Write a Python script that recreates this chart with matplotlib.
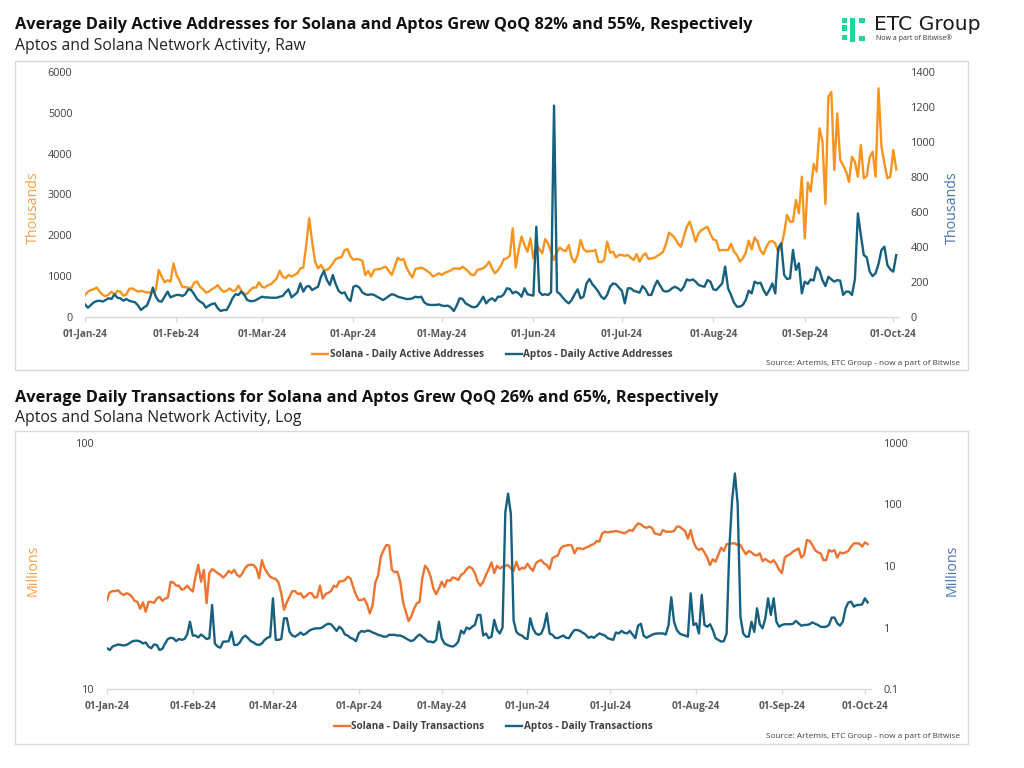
import matplotlib
matplotlib.use("Agg")
import matplotlib.pyplot as plt
import matplotlib.dates as mdates
from matplotlib.patches import Rectangle
from matplotlib.ticker import FixedLocator, FixedFormatter, NullLocator
import pandas as pd

# ---------------- data ----------------
start_date = "2024-01-01"

# Daily active addresses (thousands)
sol_daa = [540, 620, 660, 680, 720, 620, 540, 510, 550, 620,
           540, 640, 620, 520, 550, 690, 700, 660, 620, 640,
           620, 600, 600, 600, 660, 1150, 990, 850, 900, 870,
           1310, 1030, 900, 740, 730, 720, 700, 840, 870, 740,
           680, 600, 620, 680, 720, 780, 680, 620, 640, 700,
           640, 650, 770, 640, 560, 570, 660, 720, 720, 850,
           740, 720, 780, 800, 870, 950, 1130, 990, 950, 1030,
           990, 1030, 1070, 1190, 1210, 1760, 2420, 1840, 1350, 1190,
           1270, 1150, 1150, 1210, 1310, 1420, 1450, 1470, 1640, 1660,
           1480, 1400, 1420, 1410, 1380, 1030, 1125, 990, 1150, 1170,
           1175, 1210, 1230, 1125, 1030, 1230, 1450, 1395, 1420, 1210,
           1070, 970, 1175, 1190, 1210, 1175, 1125, 1070, 990, 1030,
           1070, 1030, 1085, 1110, 1140, 1190, 1190, 1175, 1230, 1175,
           1110, 1030, 1030, 1150, 1175, 1190, 1255, 1355, 1190, 1070,
           1150, 1255, 1420, 1435, 1500, 2170, 1210, 1640, 1970, 1760,
           1600, 1925, 1435, 1780, 1665, 1560, 1910, 1800, 1600, 1395,
           1600, 1700, 1640, 1615, 1760, 1450, 1340, 1520, 1885, 1665,
           1600, 1615, 1615, 1640, 1355, 1340, 1395, 1845, 1575, 1600,
           1460, 1520, 1520, 1495, 1520, 1450, 1395, 1540, 1355, 1495,
           1560, 1420, 1435, 1450, 1495, 1540, 1600, 1800, 2065, 2005,
           1925, 1800, 1720, 1965, 2210, 2335, 2090, 1845, 2050, 2130,
           2170, 2210, 2030, 1900, 1870, 1625, 1640, 1640, 1640, 1790,
           1600, 1520, 1355, 1435, 1575, 1870, 1655, 1950, 1845, 1625,
           1540, 1720, 1845, 1860, 1800, 1600, 1720, 2050, 2500, 2335,
           2335, 2865, 2540, 3435, 1925, 3290, 3070, 3745, 3560, 4620,
           4290, 2765, 5395, 5515, 3600, 4985, 3845, 3720, 3560, 3310,
           3925, 3800, 3435, 4210, 3395, 3450, 3910, 4050, 3435, 5600,
           4170, 3760, 3395, 3435, 4090, 3615]

apt_daa = [72, 53, 69, 84, 91, 93, 88, 97, 107, 103,
           130, 110, 107, 93, 103, 93, 88, 84, 65, 40,
           55, 65, 107, 168, 116, 91, 88, 116, 145, 112,
           120, 126, 126, 120, 130, 158, 154, 130, 103, 88,
           78, 53, 65, 74, 78, 50, 34, 40, 40, 69,
           107, 130, 126, 145, 126, 97, 91, 91, 97, 107,
           116, 112, 112, 110, 110, 110, 116, 120, 141, 158,
           112, 126, 141, 192, 145, 173, 177, 154, 164, 173,
           230, 263, 211, 183, 240, 187, 149, 135, 141, 107,
           91, 173, 179, 168, 141, 130, 126, 130, 126, 116,
           107, 97, 107, 120, 130, 126, 116, 112, 107, 103,
           103, 107, 116, 112, 116, 84, 72, 69, 69, 69,
           72, 65, 63, 65, 55, 34, 65, 107, 103, 78,
           69, 59, 55, 63, 88, 116, 78, 97, 107, 91,
           116, 116, 130, 164, 160, 135, 145, 135, 116, 164,
           130, 126, 122, 516, 145, 126, 130, 126, 141, 1208,
           145, 131, 110, 91, 78, 97, 130, 158, 107, 116,
           192, 217, 187, 168, 145, 116, 103, 126, 173, 192,
           187, 168, 150, 78, 164, 164, 150, 145, 139, 177,
           158, 126, 126, 173, 208, 179, 150, 145, 150, 164,
           173, 164, 150, 173, 215, 208, 215, 202, 183, 177,
           173, 211, 202, 158, 154, 173, 192, 288, 164, 126,
           82, 59, 59, 69, 97, 150, 135, 202, 192, 196,
           154, 126, 154, 192, 135, 392, 421, 240, 217, 221,
           383, 269, 307, 135, 202, 189, 215, 208, 284, 265,
           211, 177, 230, 215, 202, 211, 208, 126, 145, 145,
           126, 217, 592, 469, 354, 341, 259, 234, 250, 303,
           383, 402, 297, 272, 259, 354]

# Daily transactions (millions)
sol_tx = [23.0, 24.7, 25.0, 25.0, 25.2, 24.5, 24.1, 24.5, 24.3, 23.7,
          22.8, 22.6, 21.2, 22.5, 20.6, 22.6, 22.6, 22.4, 23.3, 23.7,
          22.8, 23.3, 23.5, 27.3, 27.1, 26.3, 26.3, 25.3, 25.6, 26.3,
          25.5, 24.9, 28.6, 32.0, 27.3, 30.5, 22.3, 29.6, 30.7, 30.2,
          29.6, 29.1, 28.4, 29.1, 30.2, 29.6, 30.5, 29.1, 28.6, 29.6,
          31.1, 31.9, 32.0, 31.9, 30.9, 28.2, 33.4, 30.9, 29.6, 28.6,
          28.2, 28.0, 27.1, 24.5, 21.0, 22.5, 23.7, 25.0, 25.0, 24.3,
          24.5, 23.5, 23.9, 24.5, 24.5, 23.5, 23.7, 26.3, 23.3, 24.3,
          24.6, 25.0, 26.3, 26.0, 27.4, 27.4, 27.7, 28.6, 28.2, 26.0,
          24.1, 23.0, 23.0, 23.3, 22.1, 20.3, 21.9, 27.1, 28.9, 34.5,
          36.7, 38.5, 38.3, 30.5, 29.8, 30.0, 27.3, 22.6, 20.7, 18.9,
          19.7, 21.2, 22.3, 22.6, 28.2, 31.7, 30.7, 28.6, 25.6, 24.3,
          25.6, 27.3, 26.0, 27.7, 27.5, 28.4, 28.2, 27.7, 29.1, 29.6,
          30.7, 31.4, 30.9, 29.6, 27.3, 26.3, 27.3, 29.1, 30.7, 32.7,
          29.6, 31.7, 30.9, 31.4, 31.7, 31.9, 30.9, 30.2, 32.9, 30.5,
          31.1, 30.9, 32.3, 31.1, 30.2, 32.4, 33.1, 33.4, 32.4, 31.9,
          30.7, 34.0, 34.5, 34.9, 37.3, 38.1, 38.3, 38.5, 38.3, 35.6,
          37.3, 37.3, 37.0, 37.5, 37.9, 38.5, 38.8, 40.0, 39.7, 42.9,
          43.6, 43.3, 43.6, 43.6, 43.9, 43.6, 43.3, 42.9, 43.6, 44.3,
          43.9, 45.7, 47.1, 46.7, 45.7, 45.2, 45.7, 45.2, 42.9, 42.6,
          42.3, 44.3, 43.6, 43.6, 43.6, 43.9, 45.7, 45.7, 44.7, 43.9,
          40.8, 44.3, 39.7, 37.5, 36.7, 37.3, 35.9, 34.2, 31.9, 33.7,
          32.9, 35.1, 37.5, 36.4, 38.8, 38.8, 39.1, 39.1, 38.5, 38.5,
          36.7, 35.3, 36.4, 35.9, 35.1, 34.9, 35.6, 33.1, 33.8, 33.1,
          32.7, 33.4, 32.1, 30.5, 29.6, 34.2, 34.9, 35.3, 36.2, 36.7,
          37.3, 34.2, 35.1, 40.3, 40.0, 38.5, 36.7, 35.9, 35.6, 33.4,
          33.4, 36.7, 36.2, 36.7, 34.2, 35.9, 35.6, 35.9, 36.4, 37.9,
          39.1, 39.1, 39.0, 37.9, 39.5, 38.8]

apt_tx = [0.46, 0.43, 0.49, 0.51, 0.53, 0.52, 0.51, 0.52, 0.55, 0.59,
          0.61, 0.61, 0.59, 0.55, 0.57, 0.49, 0.46, 0.53, 0.52, 0.43,
          0.45, 0.55, 0.65, 0.68, 0.67, 0.60, 0.65, 0.63, 0.65, 0.77,
          1.24, 0.74, 0.74, 0.69, 0.77, 0.71, 0.65, 0.67, 2.32, 0.55,
          0.49, 0.47, 0.59, 0.59, 0.60, 0.85, 0.52, 0.52, 0.57, 0.68,
          0.74, 0.67, 0.60, 0.57, 0.53, 0.52, 0.55, 0.63, 0.68, 0.71,
          2.98, 0.63, 0.63, 0.65, 1.41, 1.41, 0.85, 0.74, 0.71, 0.76,
          0.83, 0.76, 0.80, 0.88, 0.93, 0.96, 0.97, 0.97, 1.01, 1.10,
          1.15, 1.13, 1.00, 0.88, 1.03, 0.94, 0.77, 0.74, 0.68, 0.65,
          0.60, 0.80, 0.88, 0.85, 0.89, 0.88, 0.83, 0.80, 0.76, 0.74,
          0.71, 0.71, 0.76, 0.76, 0.76, 0.74, 0.74, 0.71, 0.67, 0.63,
          0.60, 0.63, 0.71, 0.77, 0.71, 0.65, 0.59, 0.59, 0.57, 0.63,
          1.24, 0.67, 0.55, 0.52, 0.50, 0.49, 0.52, 0.59, 0.89, 0.80,
          1.00, 0.94, 1.03, 1.10, 1.60, 1.60, 0.74, 0.80, 0.67, 0.71,
          1.33, 0.91, 0.80, 1.00, 75.0, 150.0, 70.0, 1.30, 0.85, 0.77,
          0.74, 0.67, 0.65, 1.41, 0.97, 0.80, 0.76, 0.80, 1.03, 1.70,
          0.80, 0.76, 0.68, 0.67, 0.71, 0.74, 0.68, 0.67, 0.80, 0.91,
          0.91, 0.88, 0.82, 0.77, 0.68, 0.71, 0.68, 0.74, 0.80, 0.77,
          0.74, 0.67, 0.65, 0.63, 0.83, 0.80, 0.88, 0.82, 0.80, 0.88,
          0.77, 0.67, 1.07, 1.15, 0.74, 0.68, 0.72, 0.76, 0.79, 0.80,
          0.80, 0.80, 0.77, 1.09, 3.10, 1.24, 0.91, 0.80, 0.76, 0.74,
          0.71, 3.60, 1.10, 1.17, 0.80, 3.40, 1.10, 1.03, 1.13, 0.91,
          0.67, 0.63, 0.59, 0.60, 0.80, 20.0, 120.0, 320.0, 100.0, 1.50,
          0.80, 0.71, 0.71, 1.24, 0.85, 2.05, 1.13, 0.97, 1.41, 2.98,
          1.60, 2.98, 1.24, 1.03, 1.10, 1.13, 1.13, 1.13, 1.15, 1.28,
          1.17, 1.07, 1.10, 1.10, 1.13, 1.21, 1.15, 1.10, 1.03, 1.02,
          1.03, 1.10, 1.45, 1.45, 1.17, 1.07, 1.24, 2.05, 2.55, 2.63,
          2.18, 2.32, 2.32, 2.38, 2.98, 2.55]

daa_left_ticks = [0, 1000, 2000, 3000, 4000, 5000, 6000]
daa_right_ticks = [0, 200, 400, 600, 800, 1000, 1200, 1400]
tx_left_ticks = [10, 100]
tx_right_ticks = [0.1, 1, 10, 100, 1000]

title1 = "Average Daily Active Addresses for Solana and Aptos Grew QoQ 82% and 55%, Respectively"
sub1 = "Aptos and Solana Network Activity, Raw"
title2 = "Average Daily Transactions for Solana and Aptos Grew QoQ 26% and 65%, Respectively"
sub2 = "Aptos and Solana Network Activity, Log"
source = "Source: Artemis, ETC Group - now a part of Bitwise"

# ---------------- style ----------------
FONT = "Open Sans"
plt.rcParams["font.family"] = [FONT, "DejaVu Sans"]
C_SOL1 = "#F7941D"
C_SOL2 = "#ED7430"
C_APT = "#17607F"
C_LAB_OR = "#F5A04A"
C_LAB_BL = "#4A72B8"
C_TXT = "#404040"
C_GRID = "#D9D9D9"

W, H = 1024, 768
fig = plt.figure(figsize=(W / 100, H / 100), dpi=100)


def rect(x0, y0, x1, y1):
    return [x0 / W, 1 - y1 / H, (x1 - x0) / W, (y1 - y0) / H]


def fx(x):
    return x / W


def fy(y):
    return 1 - y / H


# panel borders
for (x0, y0, x1, y1) in [(15, 61, 968, 370), (15, 431, 968, 744)]:
    fig.add_artist(Rectangle((fx(x0), fy(y1)), (x1 - x0) / W, (y1 - y0) / H,
                             transform=fig.transFigure, fill=False,
                             edgecolor=C_GRID, linewidth=1.0))

# titles
TS, SS = 11.8, 11.3
fig.text(fx(15), fy(25), title1, fontsize=TS, fontweight="bold", color="#111111", va="center", ha="left")
fig.text(fx(15), fy(46), sub1, fontsize=SS, color="#222222", va="center", ha="left")
fig.text(fx(15), fy(398), title2, fontsize=TS, fontweight="bold", color="#111111", va="center", ha="left")
fig.text(fx(15), fy(418), sub2, fontsize=SS, color="#222222", va="center", ha="left")

# logo
GREEN = "#22D69B"
for (x0, y0, x1, y1) in [(842, 18, 847, 23), (842, 25, 847, 31), (842, 35, 847, 40),
                         (850, 18, 855, 42), (859, 18, 865, 23), (859, 36, 865, 41)]:
    fig.add_artist(Rectangle((fx(x0), fy(y1)), (x1 - x0) / W, (y1 - y0) / H,
                             transform=fig.transFigure, color=GREEN, linewidth=0))
fig.text(fx(874), fy(25), "ETC Group", fontsize=14.6, color="#1a1a1a", va="center", ha="left",
         family=["DejaVu Sans"])
fig.text(fx(876), fy(38.5), "Now a part of Bitwise\u00ae", fontsize=5, color="#333333", va="center", ha="left")

dates_daa = pd.date_range(start_date, periods=len(sol_daa), freq="D")
dates_tx = pd.date_range(start_date, periods=len(sol_tx), freq="D")
t0 = pd.Timestamp(start_date)


def style_x(ax, right_days):
    ax.set_xlim(t0, t0 + pd.Timedelta(days=right_days))
    ax.xaxis.set_major_locator(mdates.MonthLocator())
    ax.xaxis.set_major_formatter(mdates.DateFormatter("%d-%b-%y"))
    ax.tick_params(axis="x", length=3.5, width=1, color=C_GRID, pad=5, labelsize=7.2,
                   labelcolor="#595959")
    for lab in ax.get_xticklabels():
        lab.set_fontweight("bold")
    for s in ["top", "left", "right"]:
        ax.spines[s].set_visible(False)
    ax.spines["bottom"].set_color(C_GRID)
    ax.spines["bottom"].set_linewidth(1)
    ax.set_facecolor("none")


# ---------------- top chart ----------------
ax1 = fig.add_axes(rect(85, 72, 898, 317))
l1, = ax1.plot(dates_daa, sol_daa, color=C_SOL1, lw=1.7, solid_joinstyle="round")
ax1.set_ylim(0, 6000)
ax1.yaxis.set_major_locator(FixedLocator(daa_left_ticks))
ax1.yaxis.set_major_formatter(FixedFormatter([str(v) for v in daa_left_ticks]))
ax1.tick_params(axis="y", length=0, pad=9, labelsize=7.8, labelcolor=C_TXT)
style_x(ax1, 275.6)

ax1r = ax1.twinx()
l2, = ax1r.plot(dates_daa, apt_daa, color=C_APT, lw=1.7, solid_joinstyle="round")
ax1r.set_ylim(0, 1400)
ax1r.yaxis.set_major_locator(FixedLocator(daa_right_ticks))
ax1r.yaxis.set_major_formatter(FixedFormatter([str(v) for v in daa_right_ticks]))
ax1r.tick_params(axis="y", length=0, pad=9, labelsize=7.8, labelcolor=C_TXT)
for s in ["top", "left", "right", "bottom"]:
    ax1r.spines[s].set_visible(False)

fig.text(fx(33), fy(208), "Thousands", rotation=90, fontsize=10.3, color=C_LAB_OR, ha="center", va="center")
fig.text(fx(952), fy(208), "Thousands", rotation=90, fontsize=10.3, color=C_LAB_BL, ha="center", va="center")

fig.legend([l1, l2], ["Solana - Daily Active Addresses", "Aptos - Daily Active Addresses"],
           loc="center", bbox_to_anchor=(fx(492.5), fy(355)), ncol=2, frameon=False,
           prop={"weight": "bold", "size": 7.2}, handlelength=1.6, handletextpad=0.15,
           columnspacing=2.2, labelcolor=C_TXT)
fig.text(fx(960), fy(364), source, fontsize=5.95, color=C_TXT, ha="right", va="center")

# ---------------- bottom chart ----------------
ax2 = fig.add_axes(rect(107, 443, 871, 689))
l3, = ax2.plot(dates_tx, sol_tx, color=C_SOL2, lw=1.7, solid_joinstyle="round")
ax2.set_yscale("log")
ax2.set_ylim(10, 100)
ax2.yaxis.set_major_locator(FixedLocator(tx_left_ticks))
ax2.yaxis.set_major_formatter(FixedFormatter([str(v) for v in tx_left_ticks]))
ax2.yaxis.set_minor_locator(NullLocator())
ax2.tick_params(axis="y", length=0, pad=9, labelsize=7.8, labelcolor=C_TXT)
style_x(ax2, 276.2)

ax2r = ax2.twinx()
l4, = ax2r.plot(dates_tx, apt_tx, color=C_APT, lw=1.7, solid_joinstyle="round")
ax2r.set_yscale("log")
ax2r.set_ylim(0.1, 1000)
ax2r.yaxis.set_major_locator(FixedLocator(tx_right_ticks))
ax2r.yaxis.set_major_formatter(FixedFormatter(["0.1", "1", "10", "100", "1000"]))
ax2r.yaxis.set_minor_locator(NullLocator())
ax2r.tick_params(axis="y", length=0, pad=9, labelsize=7.8, labelcolor=C_TXT)
for s in ["top", "left", "right", "bottom"]:
    ax2r.spines[s].set_visible(False)

fig.text(fx(33), fy(570), "Millions", rotation=90, fontsize=10.3, color=C_LAB_OR, ha="center", va="center")
fig.text(fx(952), fy(570), "Millions", rotation=90, fontsize=10.3, color=C_LAB_BL, ha="center", va="center")

fig.legend([l3, l4], ["Solana - Daily Transactions", "Aptos - Daily Transactions"],
           loc="center", bbox_to_anchor=(fx(493), fy(727)), ncol=2, frameon=False,
           prop={"weight": "bold", "size": 7.2}, handlelength=1.6, handletextpad=0.15,
           columnspacing=2.2, labelcolor=C_TXT)
fig.text(fx(960), fy(736), source, fontsize=5.95, color=C_TXT, ha="right", va="center")

fig.savefig("out.png", dpi=100, facecolor="white")
